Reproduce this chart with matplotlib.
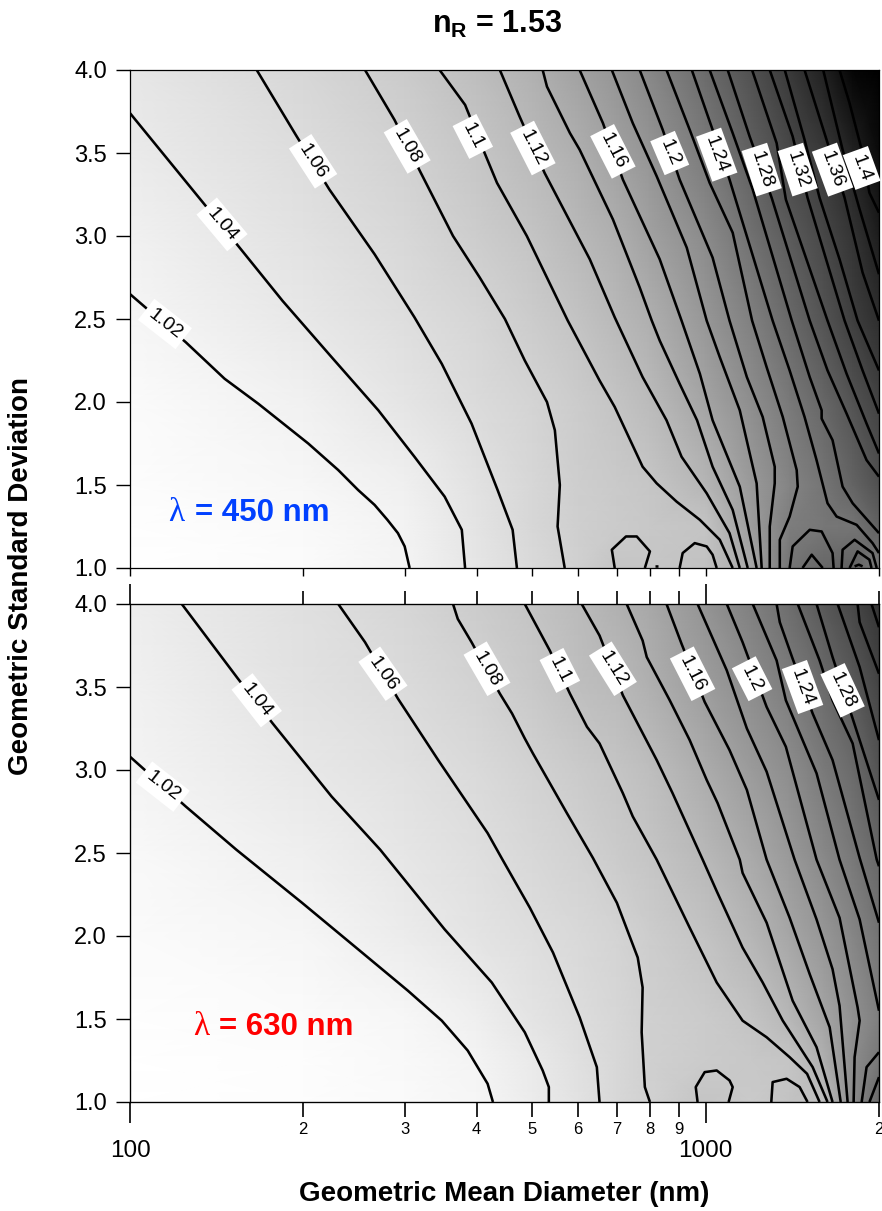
import numpy as np
import matplotlib
matplotlib.use('Agg')
import matplotlib.pyplot as plt

plt.rcParams['font.family'] = ['Liberation Sans', 'DejaVu Sans']
plt.rcParams['mathtext.fontset'] = 'custom'
plt.rcParams['mathtext.bf'] = 'Liberation Sans:bold'
plt.rcParams['mathtext.rm'] = 'Liberation Sans'

# background field, ratio values
grid_d = [100, 200, 300, 400, 500, 600, 700, 800, 1000, 1200, 1400, 1600, 1800, 2000]
grid_s = [1.0, 1.25, 1.5, 2.0, 2.5, 3.0, 3.5, 4.0]
top_z = [
    [1.001, 1.008, 1.019, 1.044, 1.065, 1.082, 1.100, 1.099, 1.105, 1.150, 1.240, 1.262, 1.270, 1.230],
    [1.002, 1.010, 1.021, 1.047, 1.070, 1.083, 1.090, 1.095, 1.102, 1.170, 1.225, 1.235, 1.238, 1.270],
    [1.004, 1.014, 1.026, 1.051, 1.070, 1.085, 1.092, 1.098, 1.126, 1.175, 1.213, 1.238, 1.268, 1.300],
    [1.008, 1.025, 1.046, 1.063, 1.075, 1.088, 1.102, 1.117, 1.158, 1.195, 1.232, 1.262, 1.296, 1.325],
    [1.016, 1.040, 1.058, 1.072, 1.088, 1.104, 1.121, 1.139, 1.180, 1.219, 1.258, 1.295, 1.330, 1.360],
    [1.025, 1.050, 1.068, 1.086, 1.102, 1.121, 1.138, 1.162, 1.200, 1.245, 1.283, 1.316, 1.350, 1.390],
    [1.035, 1.059, 1.078, 1.098, 1.119, 1.139, 1.162, 1.183, 1.228, 1.275, 1.315, 1.342, 1.380, 1.420],
    [1.042, 1.070, 1.090, 1.112, 1.135, 1.160, 1.183, 1.207, 1.255, 1.300, 1.342, 1.382, 1.430, 1.470],
]
bot_z = [
    [1.001, 1.004, 1.009, 1.016, 1.033, 1.050, 1.068, 1.080, 1.102, 1.092, 1.104, 1.110, 1.198, 1.260],
    [1.001, 1.005, 1.012, 1.020, 1.037, 1.054, 1.068, 1.082, 1.090, 1.095, 1.100, 1.136, 1.198, 1.235],
    [1.002, 1.008, 1.015, 1.028, 1.048, 1.060, 1.070, 1.082, 1.090, 1.102, 1.125, 1.155, 1.190, 1.220],
    [1.007, 1.016, 1.033, 1.047, 1.058, 1.067, 1.075, 1.086, 1.104, 1.127, 1.153, 1.180, 1.208, 1.240],
    [1.012, 1.029, 1.043, 1.056, 1.068, 1.078, 1.090, 1.100, 1.123, 1.148, 1.176, 1.206, 1.233, 1.262],
    [1.019, 1.040, 1.052, 1.065, 1.078, 1.090, 1.101, 1.113, 1.144, 1.173, 1.197, 1.230, 1.255, 1.295],
    [1.025, 1.050, 1.063, 1.077, 1.094, 1.110, 1.120, 1.136, 1.170, 1.197, 1.224, 1.253, 1.285, 1.320],
    [1.030, 1.055, 1.072, 1.088, 1.102, 1.118, 1.135, 1.151, 1.185, 1.219, 1.252, 1.287, 1.315, 1.350],
]

# top panel contours, diameter (nm) and sigma
t102_d = [100, 125, 146, 167, 204, 230, 249, 266, 280, 292, 300, 306]
t102_s = [2.65, 2.36, 2.14, 1.99, 1.75, 1.59, 1.47, 1.38, 1.29, 1.21, 1.13, 1]
t104_d = [100, 134, 155, 184, 224, 270, 312, 352, 377, 382]
t104_s = [3.74, 3.2, 2.93, 2.61, 2.27, 1.95, 1.67, 1.43, 1.23, 1]
t106_d = [166, 194, 222, 266, 312, 348, 392, 435, 462, 470]
t106_s = [4, 3.61, 3.28, 2.89, 2.51, 2.23, 1.87, 1.47, 1.23, 1]
t108_d = [256, 288, 319, 364, 405, 448, 485, 530, 547, 558, 553, 569]
t108_s = [4, 3.7, 3.39, 3, 2.75, 2.5, 2.25, 2, 1.83, 1.5, 1.25, 1]
t110_d = [345, 382, 413, 434, 489, 576, 654, 695, 777, 822, 890, 977, 1058, 1114]
t110_s = [4, 3.79, 3.5, 3.32, 3, 2.49, 2.13, 1.97, 1.61, 1.51, 1.4, 1.29, 1.17, 1]
t112_d = [439, 475, 525, 629, 695, 777, 855, 908, 1004, 1100, 1146]
t112_s = [4, 3.72, 3.38, 2.86, 2.51, 2.15, 1.89, 1.67, 1.45, 1.21, 1]
t114_d = [521, 530, 581, 604, 690, 768, 806, 832, 901, 966, 1028, 1114, 1183]
t114_s = [4, 3.9, 3.62, 3.52, 3.1, 2.69, 2.49, 2.37, 2.11, 1.89, 1.61, 1.35, 1]
t116_d = [604, 663, 718, 832, 908, 977, 1028, 1146, 1226]
t116_s = [4, 3.68, 3.34, 2.86, 2.49, 2.17, 1.89, 1.49, 1]
t118_d = [687, 747, 822, 927, 1004, 1058, 1146, 1226, 1251]
t118_s = [4, 3.68, 3.36, 2.93, 2.49, 2.27, 1.95, 1.51, 1]
t120_d = [768, 842, 901, 1028, 1100, 1179, 1256, 1318, 1318, 1292, 1292]
t120_s = [4, 3.64, 3.34, 2.87, 2.49, 2.15, 1.91, 1.61, 1.51, 1.25, 1]
t122_d = [855, 938, 1016, 1114, 1204, 1276, 1361, 1439, 1445, 1399, 1345, 1345]
t122_s = [4, 3.64, 3.32, 3.02, 2.49, 2.21, 1.91, 1.59, 1.49, 1.31, 1.17, 1]
t124_d = [946, 1028, 1100, 1307, 1399, 1485, 1558, 1628, 1688, 1829, 1949, 2000]
t124_s = [4, 3.64, 3.34, 2.49, 2.19, 1.91, 1.65, 1.39, 1.31, 1.26, 1.15, 1.09]
t126_d = [1016, 1114, 1207, 1411, 1516, 1590, 1590, 1661, 1729, 1800, 2000]
t126_s = [4, 3.62, 3.28, 2.49, 2.15, 1.95, 1.9, 1.77, 1.49, 1.39, 1.21]
t128_d = [1092, 1192, 1302, 1516, 1628, 1757, 1903, 2000]
t128_s = [4, 3.6, 3.23, 2.49, 2.19, 1.93, 1.65, 1.55]
t130_d = [1204, 1328, 1378, 1628, 1757, 1903, 2000]
t130_s = [4, 3.56, 3.22, 2.49, 2.17, 1.87, 1.69]
t132_d = [1292, 1416, 1503, 1743, 1873, 2000]
t132_s = [4, 3.6, 3.23, 2.49, 2.19, 1.93]
t134_d = [1372, 1485, 1577, 1708, 1836, 2000]
t134_s = [4, 3.58, 3.23, 2.86, 2.49, 2.19]
t136_d = [1485, 1642, 1743, 1873, 2000]
t136_s = [4, 3.52, 3.23, 2.78, 2.49]
t138_d = [1600, 1729, 1851, 2000]
t138_s = [4, 3.52, 3.16, 2.77]
t140_d = [1708, 1778, 1866, 1925, 2000]
t140_s = [4, 3.8, 3.52, 3.26, 3.14]
# closed bits along the bottom of the top panel
ta1_d = [695, 687, 727, 759, 800, 784]
ta1_s = [1, 1.11, 1.19, 1.19, 1.1, 1]
ta2_d = [901, 912, 957, 1004, 1028, 1045]
ta2_s = [1, 1.09, 1.15, 1.13, 1.08, 1]
ta3_d = [1399, 1416, 1516, 1590, 1661, 1668]
ta3_s = [1, 1.13, 1.23, 1.22, 1.09, 1]
ta4_d = [1473, 1528, 1597]
ta4_s = [1, 1.08, 1]
ta5_d = [1722, 1729, 1814, 1949, 1982]
ta5_s = [1, 1.11, 1.17, 1.09, 1]
ta6_d = [1778, 1836, 1925, 1941]
ta6_s = [1, 1.1, 1.05, 1]
ta7_d = [1814, 1845, 1873]
ta7_s = [1.01, 1.02, 1.01]
ta8_d = [818, 826]
ta8_s = [1.01, 1.01]

# bottom panel contours
b102_d = [100, 125, 153, 199, 249, 304, 348, 386, 418, 427]
b102_s = [3.08, 2.78, 2.52, 2.2, 1.92, 1.67, 1.49, 1.31, 1.11, 1]
b104_d = [123, 154, 177, 224, 272, 352, 425, 485, 521, 534, 534]
b104_s = [4, 3.55, 3.28, 2.84, 2.52, 2.04, 1.72, 1.42, 1.19, 1.09, 1]
b106_d = [230, 256, 292, 343, 418, 442, 495, 543, 604, 647, 654]
b106_s = [4, 3.77, 3.43, 3.06, 2.62, 2.47, 2.17, 1.9, 1.51, 1.21, 1]
b108_d = [364, 371, 392, 439, 461, 485, 501, 574, 637, 701, 762, 777, 774, 784, 800]
b108_s = [4, 3.91, 3.77, 3.46, 3.34, 3.19, 3.1, 2.74, 2.47, 2.2, 1.87, 1.69, 1.42, 1.09, 1]
b110_d = [485, 536, 581, 622, 654, 718, 747, 822, 938, 1045, 1159, 1276, 1399, 1500, 1577]
b110_s = [4, 3.72, 3.46, 3.26, 3.16, 2.86, 2.72, 2.46, 2.05, 1.72, 1.49, 1.39, 1.27, 1.17, 1]
b112_d = [609, 654, 718, 822, 876, 988, 1045, 1159, 1256, 1361, 1534, 1628]
b112_s = [4, 3.81, 3.45, 3.06, 2.86, 2.46, 2.27, 1.93, 1.72, 1.49, 1.21, 1]
b114_d = [729, 777, 790, 866, 938, 1004, 1049, 1146, 1159, 1276, 1416, 1558, 1661]
b114_s = [4, 3.78, 3.68, 3.42, 3.18, 2.94, 2.8, 2.46, 2.38, 2.08, 1.61, 1.33, 1]
b116_d = [855, 908, 996, 1100, 1179, 1276, 1399, 1516, 1642, 1716]
b116_s = [4, 3.76, 3.41, 3.12, 2.88, 2.46, 2.11, 1.77, 1.45, 1]
b118_d = [968, 1088, 1179, 1276, 1427, 1558, 1661, 1708, 1764]
b118_s = [4, 3.6, 3.25, 2.99, 2.46, 2.1, 1.8, 1.58, 1]
b120_d = [1088, 1159, 1276, 1378, 1558, 1708, 1836, 1851, 1814, 1807]
b120_s = [4, 3.77, 3.38, 3.14, 2.46, 2.11, 1.57, 1.49, 1.27, 1]
b122_d = [1207, 1328, 1378, 1558, 1708, 1851, 2000]
b122_s = [4, 3.66, 3.42, 2.98, 2.46, 2.1, 1.55]
b124_d = [1328, 1345, 1416, 1534, 1661, 1851, 2000]
b124_s = [4, 3.89, 3.67, 3.34, 3.06, 2.47, 2.08]
b126_d = [1445, 1577, 1661, 1800, 1982, 2000]
b126_s = [4, 3.66, 3.42, 3.16, 2.46, 2.42]
b128_d = [1558, 1661, 1800, 2000]
b128_s = [4, 3.68, 3.31, 2.82]
b130_d = [1695, 1851, 2000]
b130_s = [4, 3.62, 3.18]
b132_d = [1836, 1851, 2000]
b132_s = [4, 3.89, 3.58]
b134_d = [1941, 2000]
b134_s = [4, 3.86]
ba1_d = [968, 961, 996, 1045, 1100, 1114, 1096]
ba1_s = [1, 1.09, 1.18, 1.19, 1.13, 1.09, 1]
ba2_d = [1300, 1307, 1382, 1456, 1503]
ba2_s = [1, 1.12, 1.14, 1.09, 1]
ba3_d = [1866, 1903, 2000]
ba3_s = [1, 1.21, 1.3]
ba4_d = [1925, 2000]
ba4_s = [1, 1.15]

top_lines = [(t102_d, t102_s), (t104_d, t104_s), (t106_d, t106_s), (t108_d, t108_s),
             (t110_d, t110_s), (t112_d, t112_s), (t114_d, t114_s), (t116_d, t116_s),
             (t118_d, t118_s), (t120_d, t120_s), (t122_d, t122_s), (t124_d, t124_s),
             (t126_d, t126_s), (t128_d, t128_s), (t130_d, t130_s), (t132_d, t132_s),
             (t134_d, t134_s), (t136_d, t136_s), (t138_d, t138_s), (t140_d, t140_s),
             (ta1_d, ta1_s), (ta2_d, ta2_s), (ta3_d, ta3_s), (ta4_d, ta4_s),
             (ta5_d, ta5_s), (ta6_d, ta6_s), (ta7_d, ta7_s), (ta8_d, ta8_s)]
bot_lines = [(b102_d, b102_s), (b104_d, b104_s), (b106_d, b106_s), (b108_d, b108_s),
             (b110_d, b110_s), (b112_d, b112_s), (b114_d, b114_s), (b116_d, b116_s),
             (b118_d, b118_s), (b120_d, b120_s), (b122_d, b122_s), (b124_d, b124_s),
             (b126_d, b126_s), (b128_d, b128_s), (b130_d, b130_s), (b132_d, b132_s),
             (b134_d, b134_s), (ba1_d, ba1_s), (ba2_d, ba2_s), (ba3_d, ba3_s), (ba4_d, ba4_s)]

# contour labels: text, diameter, sigma, angle
top_labels = ['1.02', '1.04', '1.06', '1.08', '1.1', '1.12', '1.16', '1.2', '1.24', '1.28', '1.32', '1.36', '1.4']
top_label_d = [115, 144.5, 208, 303, 394, 501, 690, 866, 1045, 1251, 1445, 1661, 1866]
top_label_s = [2.47, 3.07, 3.45, 3.54, 3.6, 3.53, 3.51, 3.5, 3.49, 3.4, 3.4, 3.4, 3.41]
top_label_a = [-38, -50, -57, -60, -63, -63, -63, -67, -70, -72, -72, -70, -70]
bot_labels = ['1.02', '1.04', '1.06', '1.08', '1.1', '1.12', '1.16', '1.2', '1.24', '1.28']
bot_label_d = [114, 166, 275, 417, 558, 690, 949, 1204, 1473, 1729]
bot_label_s = [2.9, 3.42, 3.58, 3.61, 3.6, 3.61, 3.58, 3.55, 3.5, 3.48]
bot_label_a = [-38, -52, -55, -60, -63, -58, -63, -63, -70, -65]

y_ticks = [1.0, 1.5, 2.0, 2.5, 3.0, 3.5, 4.0]
minor_ticks = [200, 300, 400, 500, 600, 700, 800, 900, 2000]
minor_text = ['2', '3', '4', '5', '6', '7', '8', '9', '2']

W, H = 882, 1211
fig = plt.figure(figsize=(W / 100, H / 100), dpi=100)
ax1 = fig.add_axes([130 / W, 1 - 568 / H, 749 / W, 498 / H])
ax2 = fig.add_axes([130 / W, 1 - 1102 / H, 749 / W, 498 / H])


def panel(ax, z, lines, labels, lab_d, lab_s, lab_a):
    ax.set_xscale('log')
    X, Y = np.meshgrid(grid_d, grid_s)
    ax.pcolormesh(X, Y, np.array(z), shading='gouraud', cmap='gray_r', vmin=1.0, vmax=1.44)
    for d, s in lines:
        ax.plot(d, s, color='k', lw=1.85, solid_joinstyle='round', solid_capstyle='butt')
    for t, d, s, a in zip(labels, lab_d, lab_s, lab_a):
        ax.text(d, s, t, rotation=a, rotation_mode='anchor', ha='center', va='center', fontsize=14,
                bbox=dict(boxstyle='square,pad=0.25', fc='white', ec='none'), zorder=5)
    ax.set_xlim(100, 2000)
    ax.set_ylim(1, 4)
    ax.set_yticks(y_ticks)
    ax.set_yticklabels(['%.1f' % v for v in y_ticks])
    ax.tick_params(axis='y', length=10, width=1, labelsize=17, pad=6.5)
    for sp in ax.spines.values():
        sp.set_linewidth(0.9)


panel(ax1, top_z, top_lines, top_labels, top_label_d, top_label_s, top_label_a)
panel(ax2, bot_z, bot_lines, bot_labels, bot_label_d, bot_label_s, bot_label_a)

# top panel: short ticks only, no labels
ax1.set_xticks([100, 1000])
ax1.set_xticks(minor_ticks, minor=True)
ax1.tick_params(axis='x', which='both', length=5.8, width=1, labelbottom=False)

# bottom panel: labelled ticks below
ax2.set_xticks([100, 1000])
ax2.set_xticklabels(['100', '1000'])
ax2.set_xticks(minor_ticks, minor=True)
ax2.set_xticklabels(minor_text, minor=True)
ax2.tick_params(axis='x', which='major', length=15, width=1.2, labelsize=17.5, pad=12.5)
ax2.tick_params(axis='x', which='minor', length=10.5, width=1.2, labelsize=12, pad=4)

# ticks pointing up into the gap
ax3 = ax2.twiny()
ax3.set_xscale('log')
ax3.set_xlim(100, 2000)
ax3.set_xticks([100, 1000])
ax3.set_xticks(minor_ticks, minor=True)
ax3.tick_params(axis='x', which='major', length=14.4, width=1.2, labeltop=False)
ax3.tick_params(axis='x', which='minor', length=9.4, width=1.2, labeltop=False)

fig.text(497 / W, 1 - 24 / H, r'$\mathbf{n_R}$ = 1.53', fontsize=22, fontweight='bold', ha='center', va='center')
fig.text(504 / W, 1 - 1194 / H, 'Geometric Mean Diameter (nm)', fontsize=20, fontweight='bold', ha='center', va='center')
fig.text(21 / W, 1 - 576 / H, 'Geometric Standard Deviation', fontsize=20, fontweight='bold', rotation=90, ha='center', va='center')

fig.text(168 / W, 1 - 513 / H, '\u03bb', fontsize=24, family='Liberation Serif', color='#0040ff', ha='left', va='center')
fig.text(195 / W, 1 - 513 / H, '= 450 nm', fontsize=22.5, fontweight='bold', color='#0040ff', ha='left', va='center')
fig.text(193 / W, 1 - 1027 / H, '\u03bb', fontsize=24, family='Liberation Serif', color='#ff0000', ha='left', va='center')
fig.text(219 / W, 1 - 1027 / H, '= 630 nm', fontsize=22.5, fontweight='bold', color='#ff0000', ha='left', va='center')

fig.savefig('out.png', dpi=100)
